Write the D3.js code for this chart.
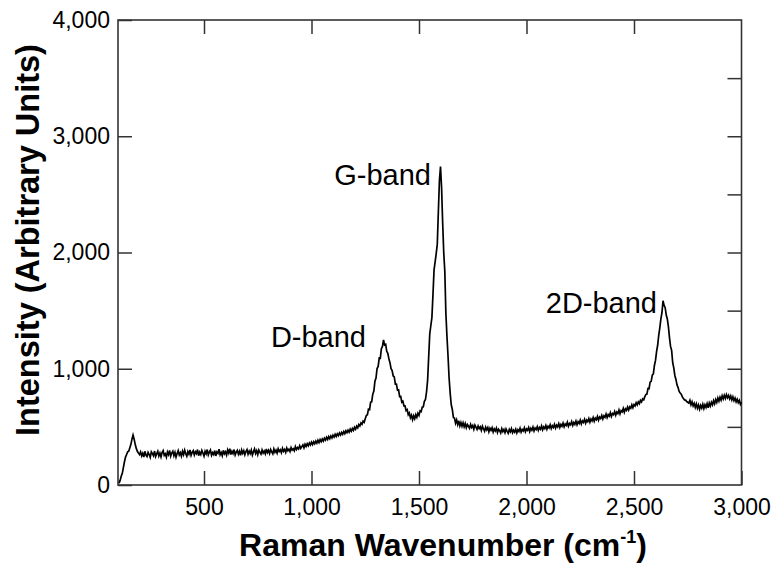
<!DOCTYPE html>
<html><head><meta charset="utf-8">
<script src="https://cdn.jsdelivr.net/npm/d3@7"></script>
<style>
body{margin:0;background:#fff}
svg{display:block}
text{font-family:"Liberation Sans",Arial,sans-serif;fill:#000}
</style>
</head><body>
<svg id="chart" width="775" height="566"></svg>
<script>
// Raman spectrum: [wavenumber (cm-1), intensity (a.u.)]
const spectrum = [
[105,15],[110,40],[115,75],[120,100],[125,150],[130,200],[135,240],[140,262],[145,285],[150,290],
[155,320],[160,350],[165,395],[170,430],[175,395],[180,350],[185,315],[190,290],[195,275],
[200,262],[205,285],[210,250],[215,272],[220,240],[225,290],[230,258],[235,245],[240,280],[245,262],
[250,238],[255,285],[260,270],[265,252],[270,292],[275,245],[280,268],[285,290],[290,250],[295,275],
[300,242],[305,280],[310,296],[315,255],[320,268],[325,240],[330,285],[335,262],[340,298],[345,248],
[350,275],[355,290],[360,252],[365,282],[370,240],[375,270],[380,295],[385,258],[390,278],[395,248],
[400,290],[405,262],[410,300],[415,270],[420,248],[425,288],[430,265],[435,302],[440,255],[445,280],
[450,295],[455,258],[460,286],[465,270],[470,305],[475,252],[480,282],[485,262],[490,298],[495,275],
[500,248],[505,290],[510,268],[515,305],[520,258],[525,282],[530,300],[535,255],[540,278],[545,262],
[550,296],[555,250],[560,285],[565,272],[570,308],[575,260],[580,280],[585,252],[590,298],[595,268],
[600,285],[605,258],[610,302],[615,275],[620,312],[625,262],[630,290],[635,270],[640,305],[645,258],
[650,282],[655,298],[660,265],[665,290],[670,255],[675,300],[680,272],[685,295],[690,260],[695,288],
[700,305],[705,265],[710,292],[715,270],[720,300],[725,258],[730,285],[735,310],[740,272],[745,295],
[750,262],[755,300],[760,280],[765,265],[770,302],[775,275],[780,292],[785,268],[790,310],[795,278],
[800,298],[805,270],[810,305],[815,285],[820,268],[825,310],[830,282],[835,300],[840,275],[845,312],
[850,288],[855,302],[860,278],[865,315],[870,290],[875,305],[880,280],[885,318],[890,295],[895,308],
[900,288],[905,322],[910,300],[915,312],[920,295],[925,330],[930,305],[935,322],[940,310],[945,338],
[950,315],[955,330],[960,345],[965,320],[970,350],[975,332],[980,355],[985,338],[990,362],[995,345],
[1000,368],[1005,348],[1010,372],[1015,355],[1020,378],[1025,360],[1030,385],[1035,365],[1040,390],[1045,372],
[1050,396],[1055,378],[1060,402],[1065,386],[1070,410],[1075,392],[1080,416],[1085,398],[1090,422],[1095,405],
[1100,428],[1105,412],[1110,436],[1115,418],[1120,440],[1125,425],[1130,448],[1135,430],[1140,452],[1145,436],
[1150,460],[1155,442],[1160,466],[1165,450],[1170,472],[1175,455],[1180,480],[1185,462],[1190,486],[1195,470],
[1200,496],[1205,480],[1210,506],[1215,492],[1220,520],[1225,508],[1230,533],[1235,522],[1240,550],[1245,540],
[1250,570],[1255,598],[1260,605],[1265,652],[1270,648],[1275,712],[1280,715],[1285,782],[1290,808],[1295,892],
[1300,920],[1305,1002],[1310,1020],[1315,1092],[1320,1090],[1325,1172],[1330,1192],[1335,1248],[1340,1205],[1345,1210],
[1350,1150],[1355,1132],[1360,1085],[1365,1052],[1370,1000],[1375,985],[1380,938],[1385,930],[1390,868],[1395,868],
[1400,815],[1405,818],[1410,760],[1415,762],[1420,712],[1425,720],[1430,680],[1435,680],[1440,640],[1445,648],
[1450,605],[1455,620],[1460,578],[1465,600],[1470,562],[1475,595],[1480,570],[1485,605],[1490,582],[1495,618],
[1500,598],[1505,638],[1510,632],[1515,670],[1520,672],[1525,720],[1530,735],[1535,800],[1540,900],[1545,1100],
[1550,1300],[1555,1370],[1560,1440],[1565,1640],[1570,1850],[1575,1920],[1580,1990],[1585,2070],[1590,2350],[1595,2620],
[1600,2740],[1605,2560],[1610,2260],[1615,2000],[1620,1840],[1625,1480],[1630,1280],[1635,1110],[1640,920],[1645,790],
[1650,690],[1655,650],[1660,580],[1665,575],[1670,532],[1675,560],[1680,520],[1685,552],[1690,508],[1695,538],
[1700,505],[1705,535],[1710,500],[1715,528],[1720,492],[1725,520],[1730,505],[1735,488],[1740,522],[1745,495],
[1750,512],[1755,480],[1760,515],[1765,498],[1770,478],[1775,508],[1780,485],[1785,500],[1790,470],[1795,505],
[1800,482],[1805,462],[1810,498],[1815,475],[1820,495],[1825,458],[1830,488],[1835,470],[1840,492],[1845,455],
[1850,482],[1855,465],[1860,490],[1865,452],[1870,480],[1875,468],[1880,448],[1885,485],[1890,460],[1895,478],
[1900,450],[1905,482],[1910,462],[1915,445],[1920,478],[1925,458],[1930,485],[1935,450],[1940,472],[1945,455],
[1950,480],[1955,448],[1960,475],[1965,460],[1970,488],[1975,455],[1980,478],[1985,465],[1990,492],[1995,458],
[2000,482],[2005,470],[2010,495],[2015,460],[2020,488],[2025,472],[2030,498],[2035,465],[2040,490],[2045,478],
[2050,502],[2055,470],[2060,495],[2065,480],[2070,508],[2075,475],[2080,500],[2085,485],[2090,512],[2095,480],
[2100,505],[2105,492],[2110,518],[2115,485],[2120,510],[2125,495],[2130,522],[2135,490],[2140,515],[2145,500],
[2150,528],[2155,495],[2160,520],[2165,505],[2170,532],[2175,500],[2180,525],[2185,512],[2190,540],[2195,505],
[2200,530],[2205,518],[2210,545],[2215,512],[2220,538],[2225,522],[2230,550],[2235,518],[2240,545],[2245,530],
[2250,558],[2255,525],[2260,552],[2265,538],[2270,565],[2275,532],[2280,558],[2285,545],[2290,572],[2295,540],
[2300,568],[2305,552],[2310,580],[2315,548],[2320,575],[2325,562],[2330,590],[2335,558],[2340,585],[2345,572],
[2350,598],[2355,568],[2360,595],[2365,582],[2370,610],[2375,580],[2380,605],[2385,592],[2390,622],[2395,590],
[2400,615],[2405,605],[2410,632],[2415,600],[2420,628],[2425,615],[2430,645],[2435,612],[2440,640],[2445,630],
[2450,658],[2455,625],[2460,655],[2465,642],[2470,670],[2475,645],[2480,672],[2485,660],[2490,690],[2495,665],
[2500,692],[2505,680],[2510,708],[2515,690],[2520,715],[2525,700],[2530,728],[2535,715],[2540,740],[2545,732],
[2550,758],[2555,778],[2560,782],[2565,830],[2570,828],[2575,885],[2580,892],[2585,945],[2590,955],[2595,1028],
[2600,1072],[2605,1148],[2610,1202],[2615,1288],[2620,1352],[2625,1428],[2630,1482],[2635,1585],[2640,1545],[2645,1525],
[2650,1462],[2655,1428],[2660,1362],[2665,1268],[2670,1192],[2675,1158],[2680,1052],[2685,1008],[2690,942],[2695,908],
[2700,862],[2705,838],[2710,805],[2715,792],[2720,780],[2725,758],[2730,745],[2735,732],[2740,730],[2745,718],
[2750,712],[2755,705],[2760,728],[2765,690],[2770,715],[2775,680],[2780,702],[2785,668],[2790,698],[2795,660],
[2800,688],[2805,652],[2810,685],[2815,662],[2820,695],[2825,658],[2830,690],[2835,668],[2840,700],[2845,665],
[2850,705],[2855,680],[2860,712],[2865,690],[2870,725],[2875,698],[2880,735],[2885,710],[2890,748],[2895,722],
[2900,755],[2905,730],[2910,768],[2915,740],[2920,772],[2925,745],[2930,778],[2935,750],[2940,770],[2945,740],
[2950,765],[2955,732],[2960,758],[2965,725],[2970,748],[2975,715],[2980,738],[2985,708],[2990,728],[2995,695],
[3000,712]
];
const xTickValues = [500, 1000, 1500, 2000, 2500, 3000];
const xTopTickValues = [500, 1000, 1500, 2000, 2500];
const yTickValues = [0, 1000, 2000, 3000, 4000];
const yRightTickValues = [500, 1000, 1500, 2000, 2500, 3000, 3500];
const bandNames = ["D-band", "G-band", "2D-band"];
const xTitle = "Raman Wavenumber (cm";
const xTitleSup = "-1";
const yTitle = "Intensity (Arbitrary Units)";

const svg = d3.select("#chart");
const L = 118, R = 741.5, T = 20, B = 485;
const x = d3.scaleLinear().domain([100, 3000]).range([L, R]);
const y = d3.scaleLinear().domain([0, 4000]).range([B, T]);
const fmt = d3.format(",");

function styleAxis(g, fs) {
  g.select(".domain").remove();
  g.selectAll(".tick line").attr("stroke", "#333").attr("stroke-width", 1.5);
  g.selectAll(".tick text").attr("font-size", fs).attr("font-family", '"Liberation Sans",Arial,sans-serif').attr("fill", "#000");
}

svg.append("g").attr("transform", `translate(0,${B})`)
  .call(d3.axisBottom(x).tickValues(xTickValues).tickSize(-14).tickPadding(14).tickFormat(fmt))
  .call(g => styleAxis(g, 23));
svg.append("g").attr("transform", `translate(0,${T})`)
  .call(d3.axisTop(x).tickValues(xTopTickValues).tickSize(-14).tickFormat(""))
  .call(g => styleAxis(g, 23));
svg.append("g").attr("transform", `translate(${L},0)`)
  .call(d3.axisLeft(y).tickValues(yTickValues).tickSize(-14).tickPadding(8).tickFormat(fmt))
  .call(g => styleAxis(g, 23));
svg.append("g").attr("transform", `translate(${R},0)`)
  .call(d3.axisRight(y).tickValues(yRightTickValues).tickSize(-14).tickFormat(""))
  .call(g => styleAxis(g, 23));

svg.append("rect").attr("x", L).attr("y", T).attr("width", R - L).attr("height", B - T)
  .attr("fill", "none").attr("stroke", "#333").attr("stroke-width", 1.6);

const line = d3.line().x(d => x(d[0])).y(d => y(d[1]));
svg.append("path").datum(spectrum).attr("d", line)
  .attr("fill", "none").attr("stroke", "#000").attr("stroke-width", 1.7).attr("stroke-linejoin", "miter");

// band annotations (right-aligned near each peak)
const bandPos = [[366, 347], [431, 185], [657, 313]];
bandNames.forEach((t, i) => {
  svg.append("text").attr("x", bandPos[i][0]).attr("y", bandPos[i][1])
    .attr("text-anchor", "end").attr("font-size", 29).text(t);
});

const xt = svg.append("text").attr("x", 443).attr("y", 556).attr("text-anchor", "middle")
  .attr("font-size", 32).attr("font-weight", "bold");
xt.append("tspan").text(xTitle);
xt.append("tspan").attr("font-size", 18).attr("dy", -13).text(xTitleSup);
xt.append("tspan").attr("dy", 13).text(")");

svg.append("text").attr("transform", "translate(39,240) rotate(-90)")
  .attr("text-anchor", "middle").attr("font-size", 32.5).attr("font-weight", "bold").text(yTitle);
</script>
</body></html>
